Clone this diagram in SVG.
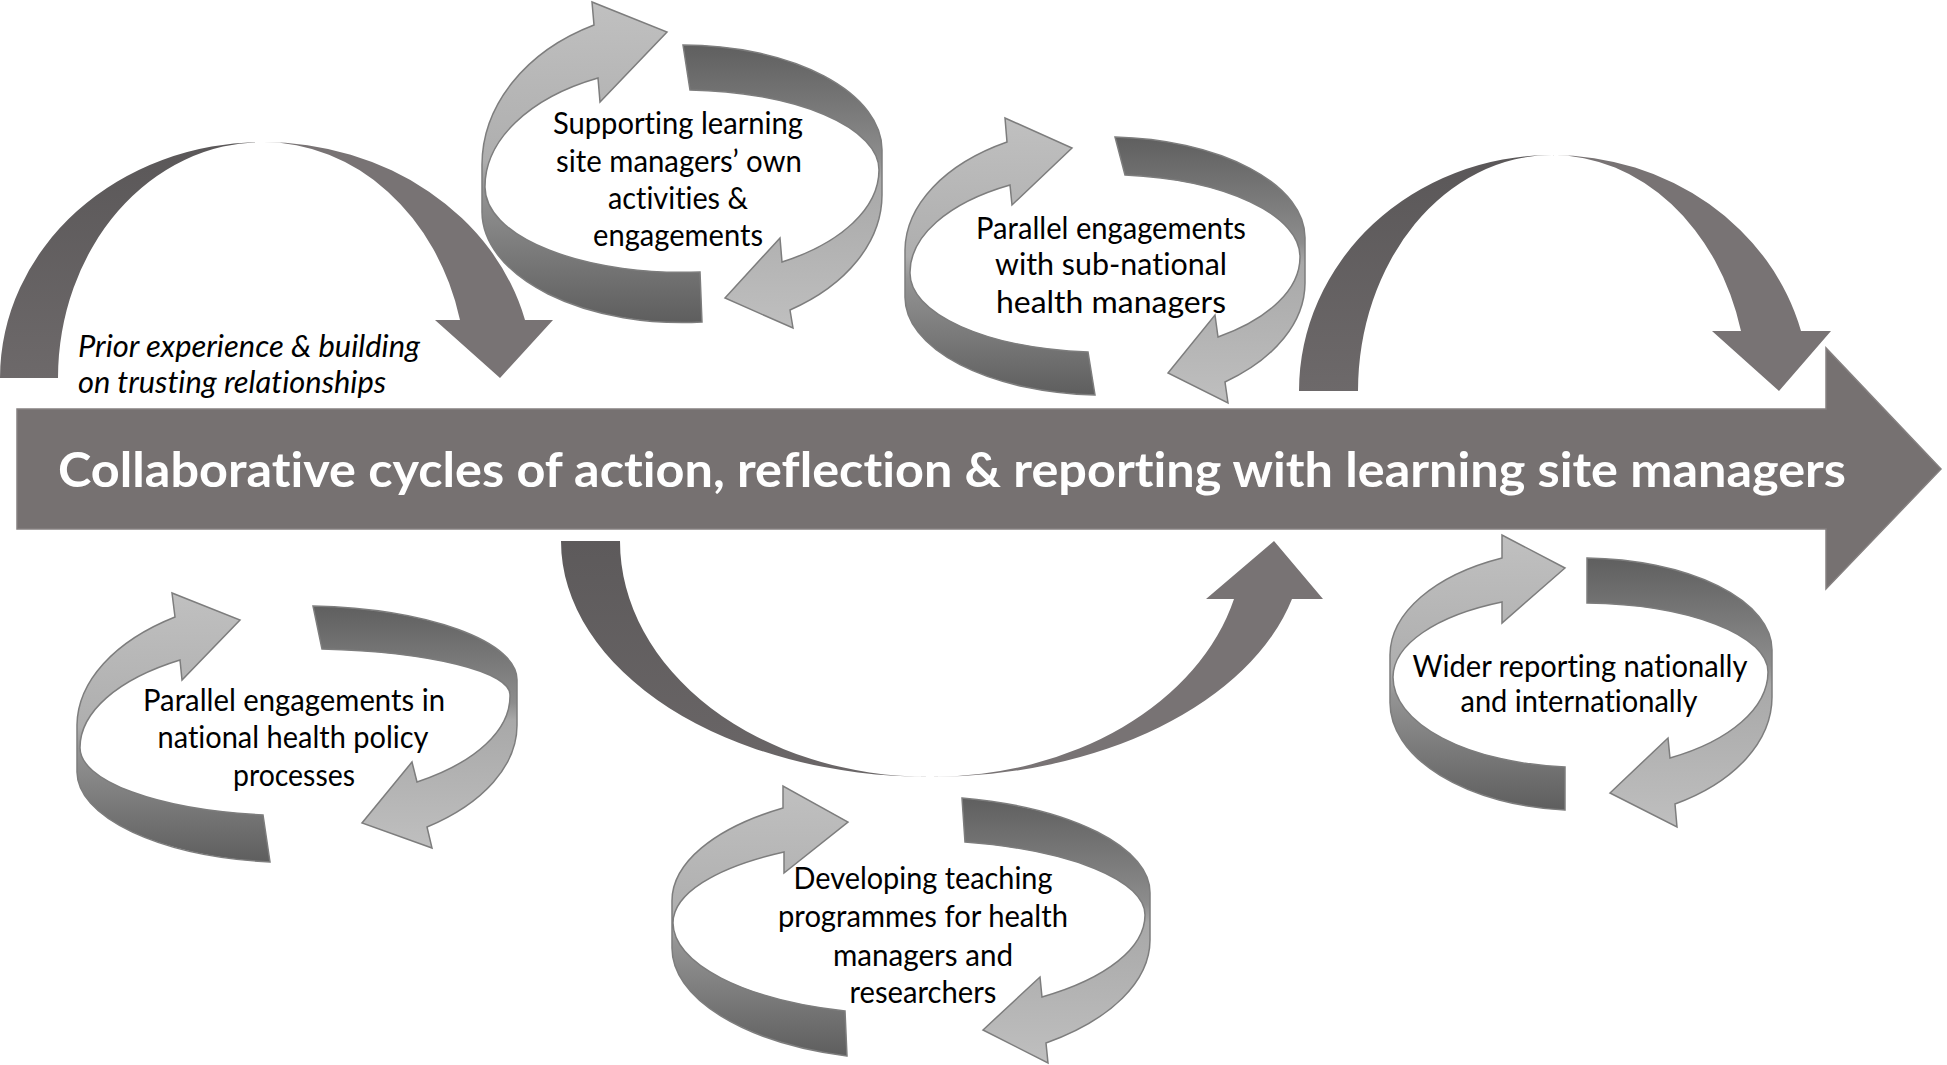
<svg xmlns="http://www.w3.org/2000/svg" width="1947" height="1065" viewBox="0 0 1947 1065">
<defs>
<linearGradient id="gL" x1="0" y1="0" x2="0" y2="1">
<stop offset="0" stop-color="#c0c0c0"/><stop offset="0.5" stop-color="#aeaeae"/><stop offset="0.58" stop-color="#949494"/><stop offset="1" stop-color="#5e5e5e"/>
</linearGradient>
<linearGradient id="gR" x1="0" y1="0" x2="0" y2="1">
<stop offset="0" stop-color="#5f5f5f"/><stop offset="0.4" stop-color="#8d8d8d"/><stop offset="0.47" stop-color="#a8a8a8"/><stop offset="1" stop-color="#bfbfbf"/>
</linearGradient>
<linearGradient id="gBack" x1="0" y1="0" x2="0" y2="1">
<stop offset="0" stop-color="#5a5758"/><stop offset="1" stop-color="#6d696a"/>
</linearGradient>
<linearGradient id="gBackU" x1="0" y1="0" x2="0" y2="1">
<stop offset="0" stop-color="#5d5a5b"/><stop offset="1" stop-color="#6a6667"/>
</linearGradient>
<style>
text{font-variant-ligatures:none;font-feature-settings:"liga" 0}
.lbl{font-family:Lato,'Open Sans','DejaVu Sans',sans-serif;font-size:30px;fill:#000;text-anchor:middle}
.ital{font-family:Lato,'Open Sans','DejaVu Sans',sans-serif;font-size:30px;font-style:italic;fill:#000}
.title{font-family:Lato,'Open Sans','DejaVu Sans',sans-serif;font-size:47px;font-weight:bold;fill:#fff}
.cl{fill:url(#gL);stroke:#7d7d7d;stroke-width:1.5}
.cr{fill:url(#gR);stroke:#7d7d7d;stroke-width:1.5}
.back{fill:url(#gBack)}
.backU{fill:url(#gBackU)}
.front{fill:#787374}
.main{fill:#767171;stroke:#858080;stroke-width:1.5}
</style>
</defs>
<rect width="1947" height="1065" fill="#ffffff"/>

<g id="connectors">
<g id="arc-prior">
<path class="back" d="M 0 378 A 263 236 0 0 1 263 142 A 205 236 0 0 0 58 378 Z"/>
<path class="front" d="M 263 142 A 270 236 0 0 1 525 320 L 553 320 L 500 378 L 435 320 L 460 320 A 203 236 0 0 0 263 142 Z"/>
</g>
<g id="arc-right">
<path class="back" d="M 1299 391 A 253 236 0 0 1 1552 155 A 194 236 0 0 0 1358 391 Z"/>
<path class="front" d="M 1552 155 A 257.5 236 0 0 1 1801 331 L 1831 331 L 1779 391 L 1712 331 L 1741 331 A 195.4 236 0 0 0 1552 155 Z"/>
</g>
<g id="arc-under">
<path class="backU" d="M 561 541 A 369 236 0 0 0 930 777 A 310 236 0 0 1 620 541 Z"/>
<path class="front" d="M 930 777 A 373.6 236 0 0 0 1292 599 L 1323 599 L 1274 541 L 1206 599 L 1234 599 A 313.7 236 0 0 1 930 777 Z"/>
</g>
</g>

<g id="main-arrow">
<path class="main" d="M 17 409 L 1826 409 L 1826 348 L 1941 469 L 1826 589 L 1826 529 L 17 529 Z"/>
<text class="title" x="58" y="487" textLength="1788" lengthAdjust="spacingAndGlyphs">Collaborative cycles of action, reflection &amp; reporting with learning site managers</text>
</g>

<g id="prior-label">
<text class="ital" x="78" y="357" textLength="342" lengthAdjust="spacingAndGlyphs">Prior experience &amp; building</text>
<text class="ital" x="78" y="393" textLength="308" lengthAdjust="spacingAndGlyphs">on trusting relationships</text>
</g>

<g id="cycle-supporting">
<path class="cl" d="M 702 322 A 200 111 0 0 1 482 212 L 482 165 A 200 156 0 0 1 594 25 L 592 2 L 667 32 L 600 102 L 598 78 A 197 120 0 0 0 485 187 A 197 85 0 0 0 700 272 Z"/>
<path class="cr" d="M 683 45 A 200 105 0 0 1 882 150 L 882 195 A 200 137 0 0 1 790 310 L 793 328 L 725 298 L 780 238 L 782 262 A 197 107 0 0 0 879 170 A 197 80 0 0 0 690 90 Z"/>
<text class="lbl" x="678" y="134" textLength="250" lengthAdjust="spacingAndGlyphs">Supporting learning</text>
<text class="lbl" x="679" y="172" textLength="246" lengthAdjust="spacingAndGlyphs">site managers’ own</text>
<text class="lbl" x="678" y="209" textLength="140" lengthAdjust="spacingAndGlyphs">activities &amp;</text>
<text class="lbl" x="678" y="246" textLength="170" lengthAdjust="spacingAndGlyphs">engagements</text>
</g>

<g id="cycle-subnational">
<path class="cl" d="M 1095 395 A 200 98 0 0 1 905 297 L 905 250 A 200 125 0 0 1 1007 142 L 1005 118 L 1072 148 L 1012 205 L 1010 185 A 195 100 0 0 0 910 273 A 195 79 0 0 0 1088 352 Z"/>
<path class="cr" d="M 1115 137 A 200 101 0 0 1 1305 238 L 1305 283 A 200 124 0 0 1 1225 382 L 1228 403 L 1168 373 L 1215 315 L 1218 337 A 195 98 0 0 0 1300 257 A 195 82 0 0 0 1125 175 Z"/>
<text class="lbl" x="1111" y="239" textLength="270" lengthAdjust="spacingAndGlyphs">Parallel engagements</text>
<text class="lbl" x="1111" y="275" textLength="232" lengthAdjust="spacingAndGlyphs">with sub-national</text>
<text class="lbl" x="1111" y="313" textLength="230" lengthAdjust="spacingAndGlyphs">health managers</text>
</g>

<g id="cycle-national">
<path class="cl" d="M 270 862 A 220 91 0 0 1 77 772 L 77 725 A 220 131 0 0 1 175 617 L 172 593 L 240 620 L 182 680 L 180 660 A 217 104 0 0 0 80 748 A 217 68 0 0 0 263 815 Z"/>
<path class="cr" d="M 313 606 A 220 74 0 0 1 517 680 L 517 725 A 220 126 0 0 1 427 827 L 432 848 L 362 823 L 412 762 L 417 782 A 213 104 0 0 0 510 695 A 213 46 0 0 0 322 649 Z"/>
<text class="lbl" x="294" y="711" textLength="302" lengthAdjust="spacingAndGlyphs">Parallel engagements in</text>
<text class="lbl" x="293" y="748" textLength="271" lengthAdjust="spacingAndGlyphs">national health policy</text>
<text class="lbl" x="294" y="786" textLength="122" lengthAdjust="spacingAndGlyphs">processes</text>
</g>

<g id="cycle-teaching">
<path class="cl" d="M 847 1056 A 239 112 0 0 1 672 948 L 672 901 A 239 110 0 0 1 783 808 L 783 786 L 848 822 L 784 873 L 784 852 A 238 84 0 0 0 673 923 A 238 92 0 0 0 845 1011 Z"/>
<path class="cr" d="M 962 798 A 239 97 0 0 1 1150 893 L 1150 940 A 239 125 0 0 1 1046 1043 L 1048 1063 L 983 1030 L 1040 977 L 1042 997 A 234 99 0 0 0 1145 915 A 234 75 0 0 0 965 842 Z"/>
<text class="lbl" x="923" y="889" textLength="259" lengthAdjust="spacingAndGlyphs">Developing teaching</text>
<text class="lbl" x="923" y="927" textLength="290" lengthAdjust="spacingAndGlyphs">programmes for health</text>
<text class="lbl" x="923" y="966" textLength="180" lengthAdjust="spacingAndGlyphs">managers and</text>
<text class="lbl" x="923" y="1003" textLength="147" lengthAdjust="spacingAndGlyphs">researchers</text>
</g>

<g id="cycle-wider">
<path class="cl" d="M 1565 810 A 191 108 0 0 1 1390 702 L 1390 655 A 191 107 0 0 1 1502 558 L 1502 535 L 1565 568 L 1502 623 L 1502 602 A 188 83 0 0 0 1393 677 A 188 90 0 0 0 1565 767 Z"/>
<path class="cr" d="M 1587 558 A 191 92 0 0 1 1772 650 L 1772 697 A 191 123 0 0 1 1675 804 L 1677 827 L 1610 793 L 1668 738 L 1670 758 A 187 98 0 0 0 1768 672 A 187 69 0 0 0 1587 603 Z"/>
<text class="lbl" x="1580" y="677" textLength="335" lengthAdjust="spacingAndGlyphs">Wider reporting nationally</text>
<text class="lbl" x="1579" y="712" textLength="237" lengthAdjust="spacingAndGlyphs">and internationally</text>
</g>
</svg>
